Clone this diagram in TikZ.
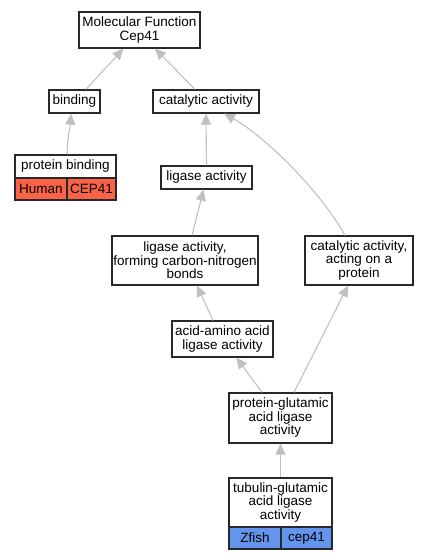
\documentclass[tikz,border=0pt]{standalone}
\usepackage{fontspec}
\setmainfont{Liberation Sans}
\usetikzlibrary{arrows.meta}
\definecolor{edgegray}{RGB}{192,192,192}
\definecolor{bordergray}{RGB}{40,40,40}
\definecolor{humanred}{RGB}{250,99,71}
\definecolor{fishblue}{RGB}{100,149,237}
\tikzset{
  box/.style={draw=bordergray, line width=1.2pt, fill=white, inner sep=0pt, align=center,
    font=\fontsize{13.5}{13.5}\selectfont},
  cell/.style={box, font=\fontsize{13.5}{13.5}\selectfont},
  edge/.style={draw=edgegray, line width=1.1pt, -{Triangle[length=11pt,width=10pt,fill=edgegray]}},
}
\begin{document}
\begin{tikzpicture}[x=1pt,y=-1pt]
\useasboundingbox (0,0) rectangle (428,560);
\node[box, minimum width=121pt, minimum height=36pt] (mf) at (139.5,30) {Molecular Function\\Cep41};
\node[box, minimum width=51pt, minimum height=23pt] (bind) at (74.5,101.5) {binding};
\node[box, minimum width=106pt, minimum height=23pt] (cat) at (206,101.5) {catalytic activity};
\node[box, minimum width=101pt, minimum height=23pt] (pb) at (65.5,166.5) {protein binding};
\node[cell, fill=humanred, minimum width=52pt, minimum height=22pt] (human) at (41,189) {Human};
\node[cell, fill=humanred, minimum width=49pt, minimum height=22pt] (cep) at (91.5,189) {CEP41};
\node[box, minimum width=91pt, minimum height=23pt] (lig) at (206.5,177.5) {ligase activity};
\node[box, minimum width=146pt, minimum height=49pt] (form) at (185,260.5) {ligase activity,\\forming carbon-nitrogen\\bonds};
\node[box, minimum width=108pt, minimum height=49pt] (act) at (359,260.5) {catalytic activity,\\acting on a\\protein};
\node[box, minimum width=101pt, minimum height=36pt] (aa) at (222.5,339) {acid-amino acid\\ligase activity};
\node[box, minimum width=103pt, minimum height=50pt] (pg) at (280.5,418) {protein-glutamic\\acid ligase\\activity};
\node[box, minimum width=103pt, minimum height=49pt] (tg) at (280.5,502.5) {tubulin-glutamic\\acid ligase\\activity};
\node[cell, fill=fishblue, minimum width=52pt, minimum height=22pt] (zf) at (255,538) {Zfish};
\node[cell, fill=fishblue, minimum width=51pt, minimum height=22pt] (cepz) at (306.5,538) {cep41};

\draw[edge] ([xshift=11.5pt]bind.north) -- ([xshift=-16pt]mf.south);
\draw[edge] ([xshift=-11pt]cat.north) -- ([xshift=15.5pt]mf.south);
\draw[edge] ([xshift=1.5pt]pb.north) .. controls +(0,-15) and +(-1,15) .. ([xshift=-3.5pt]bind.south);
\draw[edge] ([xshift=0pt]lig.north) -- (cat.south);
\draw[edge] ([xshift=-14pt]act.north) .. controls +(-25,-45) and +(40,22) .. ([xshift=18pt]cat.south);
\draw[edge] ([xshift=7pt]form.north) -- ([xshift=-3pt]lig.south);
\draw[edge] ([xshift=-9.5pt]aa.north) -- ([xshift=12pt]form.south);
\draw[edge] ([xshift=-18.5pt]pg.north) -- ([xshift=14pt]aa.south);
\draw[edge] ([xshift=13.5pt]pg.north) -- ([xshift=-11pt]act.south);
\draw[edge] (tg.north) -- (pg.south);
\end{tikzpicture}
\end{document}
